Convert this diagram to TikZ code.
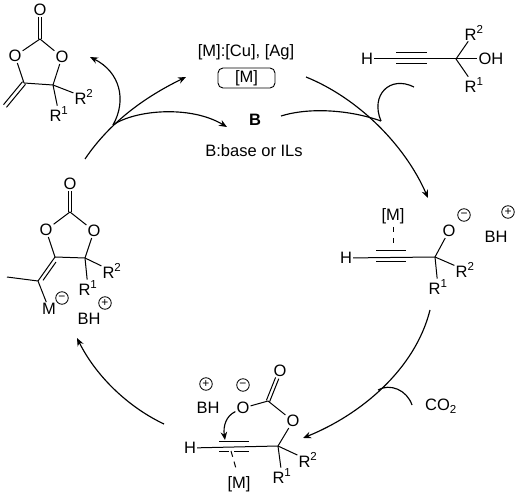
\documentclass[tikz,border=0pt]{standalone}
\usepackage{fontspec}
\setmainfont{Liberation Sans}
\usetikzlibrary{arrows.meta,calc}
\tikzset{
  x=1pt,y=-1pt,
  atom/.style={inner sep=1pt,font=\fontsize{16.5}{17}\selectfont},
  lbl/.style={inner sep=0pt,font=\fontsize{16.5}{17}\selectfont},
  bond/.style={line width=1pt},
  curve/.style={line width=1.15pt},
  arrowed/.style={curve,-{Stealth[length=8pt,width=6.5pt]}},
  chg/.style={draw,circle,line width=0.8pt,inner sep=0pt,minimum size=12.5pt,font=\fontsize{12}{12}\selectfont},
  dashbond/.style={line width=1pt,dash pattern=on 5.5pt off 5.5pt},
}
\begin{document}
\begin{tikzpicture}
\useasboundingbox (0,0) rectangle (517,494);
% top-left carbonate
\node[atom] (a1) at (40,10) {O};
\coordinate (a2) at (40,39);
\node[atom] (a3) at (15,56) {O};
\node[atom] (a4) at (62,57) {O};
\coordinate (a5) at (24,83);
\coordinate (a6) at (53,85);
\coordinate (a7) at (5,106);
\node[atom] (a8) at (84,97) {R\textsuperscript{2}};
\node[atom] (a9) at (59,114) {R\textsuperscript{1}};
\draw[bond] ([xshift=-1.7pt]a1.south) -- ([xshift=-1.7pt]a2);
\draw[bond] ([xshift=1.7pt]a1.south) -- ([xshift=1.7pt]a2);
\draw[bond] (a2) -- (a3);
\draw[bond] (a2) -- (a4);
\draw[bond] (a3) -- (a5);
\draw[bond] (a4) -- (a6);
\draw[bond] (a5) -- (a6);
\draw[bond] (a6) -- (a8);
\draw[bond] (a6) -- (a9);
\draw[bond,transform canvas={shift={(-1.5pt,1.3pt)}}] (a5) -- (a7);
\draw[bond,transform canvas={shift={(1.5pt,-1.3pt)}}] (a5) -- (a7);
% catalyst labels
\node[lbl] (t1) at (246,52) {[M]:[Cu], [Ag]};
\node[draw,rounded corners=5pt,line width=0.9pt,minimum width=57pt,minimum height=20pt,inner sep=0pt] (t2) at (246.5,78) {};
\node[lbl] (t3) at (246.5,78) {[M]};
\node[lbl,font=\fontsize{16.5}{17}\selectfont\bfseries] (t4) at (255,120) {B};
\node[lbl] (t5) at (254,151) {B:base or ILs};
% top-right propargylic alcohol
\node[atom] (b1) at (367,59) {H};
\coordinate (b2) at (456,59);
\node[atom] (b3) at (491,59) {OH};
\node[atom] (b4) at (474,33) {R\textsuperscript{2}};
\node[atom] (b5) at (474,85) {R\textsuperscript{1}};
\coordinate (b6) at (396,53);\coordinate (b7) at (427,53);
\coordinate (b8) at (396,64);\coordinate (b9) at (427,64);
\draw[bond] (b1) -- (b2);
\draw[bond] (b2) -- (b3);
\draw[bond] (b2) -- (b4);
\draw[bond] (b2) -- (b5);
\draw[bond] (b6) -- (b7);
\draw[bond] (b8) -- (b9);
% right intermediate
\node[atom] (c1) at (346,258) {H};
\coordinate (c2) at (435,257);
\node[atom] (c3) at (449,231) {O};
\node[atom] (c4) at (465,270) {R\textsuperscript{2}};
\node[atom] (c5) at (438,287) {R\textsuperscript{1}};
\coordinate (c6) at (376,251);\coordinate (c7) at (406,251);
\coordinate (c8) at (376,262);\coordinate (c9) at (406,262);
\node[lbl] (c10) at (393,216) {[M]};
\coordinate (c15) at (393,227);
\coordinate (c11) at (393,244);
\node[chg] (c12) at (464,215) {−};
\node[chg] (c13) at (508,212) {+};
\node[lbl] (c14) at (496,237) {BH};
\draw[bond] (c1) -- (c2);
\draw[bond] (c2) -- (c3);
\draw[bond] (c2) -- (c4);
\draw[bond] (c2) -- (c5);
\draw[bond] (c6) -- (c7);
\draw[bond] (c8) -- (c9);
\draw[dashbond] (c15) -- (c11);
% bottom intermediate
\node[atom] (d1) at (190,448) {H};
\coordinate (d2) at (278,446);
\node[atom] (d3) at (293,421) {O};
\coordinate (d4) at (268,401);
\node[atom] (d5) at (280,371) {O};
\node[atom] (d6) at (243,408) {O};
\node[atom] (d7) at (308,460) {R\textsuperscript{2}};
\node[atom] (d8) at (282,476) {R\textsuperscript{1}};
\coordinate (d9) at (219,441);\coordinate (d10) at (249,441);
\coordinate (d11) at (219,451);\coordinate (d12) at (229,451);
\coordinate (d18) at (234,451);\coordinate (d19) at (249,451);
\node[lbl] (d13) at (239,484) {[M]};
\coordinate (d14) at (231,451);
\coordinate (d20) at (237,472);
\node[chg] (d15) at (243,385) {−};
\node[chg] (d16) at (206,384) {+};
\node[lbl] (d17) at (208,408) {BH};
\draw[bond] (d1) -- (d2);
\draw[bond] (d2) -- (d3);
\draw[bond] (d3) -- (d4);
\draw[bond] (d4) -- (d6);
\draw[bond,transform canvas={shift={(-1.6pt,0.65pt)}}] (d4) -- (d5);
\draw[bond,transform canvas={shift={(1.6pt,-0.65pt)}}] (d4) -- (d5);
\draw[bond] (d2) -- (d7);
\draw[bond] (d2) -- (d8);
\draw[bond] (d9) -- (d10);
\draw[bond] (d11) -- (d12);
\draw[bond] (d18) -- (d19);
\draw[bond,dash pattern=on 6pt off 5pt] (d14) -- (d20);
\draw[arrowed] (d6) .. controls (226,416) and (223,426) .. (225,440);
% left intermediate
\node[atom] (e1) at (70,184) {O};
\coordinate (e2) at (70,212);
\node[atom] (e3) at (46,230) {O};
\node[atom] (e4) at (94,231) {O};
\coordinate (e5) at (55,257);
\coordinate (e6) at (85,258);
\node[atom] (e7) at (112,271) {R\textsuperscript{2}};
\node[atom] (e8) at (88,288) {R\textsuperscript{1}};
\coordinate (e9) at (38,281);
\coordinate (e10) at (7,277);
\node[atom] (e11) at (49,309) {M};
\node[chg] (e12) at (62,298) {−};
\node[chg] (e13) at (105,303) {+};
\node[lbl] (e14) at (89,319) {BH};
\draw[bond] ([xshift=-1.7pt]e1.south) -- ([xshift=-1.7pt]e2);
\draw[bond] ([xshift=1.7pt]e1.south) -- ([xshift=1.7pt]e2);
\draw[bond] (e2) -- (e3);
\draw[bond] (e2) -- (e4);
\draw[bond] (e3) -- (e5);
\draw[bond] (e4) -- (e6);
\draw[bond] (e5) -- (e6);
\draw[bond] (e6) -- (e7);
\draw[bond] (e6) -- (e8);
\draw[bond] (e5) -- (e9);
\draw[bond,transform canvas={shift={(3pt,-2.2pt)}}] ($(e5)!0.12!(e9)$) -- ($(e5)!0.88!(e9)$);
\draw[bond] (e9) -- (e10);
\draw[bond] (e9) -- (e11);
% CO2
\node[lbl] (f1) at (441,406) {CO\textsubscript{2}};
% cycle arrows
\coordinate (p1) at (85,159);
\coordinate (p2) at (186,77);
\coordinate (p3) at (113,125);
\coordinate (p4) at (227,127);
\coordinate (p5) at (90,57);
\coordinate (q1) at (306,77);
\coordinate (q2) at (428,198);
\coordinate (q3) at (281,116);
\coordinate (q4) at (381,121);
\coordinate (q5) at (414,87);
\coordinate (r1) at (430,310);
\coordinate (r2) at (303,438);
\coordinate (r3) at (378,390);
\coordinate (r4) at (412,405);
\coordinate (s1) at (164,424);
\coordinate (s2) at (77,338);
\draw[arrowed] (p1) .. controls (110,122) and (145,97) .. (p2);
\draw[arrowed] (p3) .. controls (135,110) and (190,105) .. (p4);
\draw[arrowed] (p3) .. controls (127,100) and (120,72) .. (p5);
\draw[arrowed] (q1) .. controls (358,98) and (405,145) .. (q2);
\draw[curve] (q3) .. controls (310,107) and (350,110) .. (q4);
\draw[curve] (q4) .. controls (370,95) and (390,75) .. (q5);
\draw[arrowed] (r1) .. controls (415,370) and (360,415) .. (r2);
\draw[curve] (r3) .. controls (390,383) and (407,390) .. (r4);
\draw[arrowed] (s1) .. controls (130,408) and (97,378) .. (s2);
\end{tikzpicture}
\end{document}
